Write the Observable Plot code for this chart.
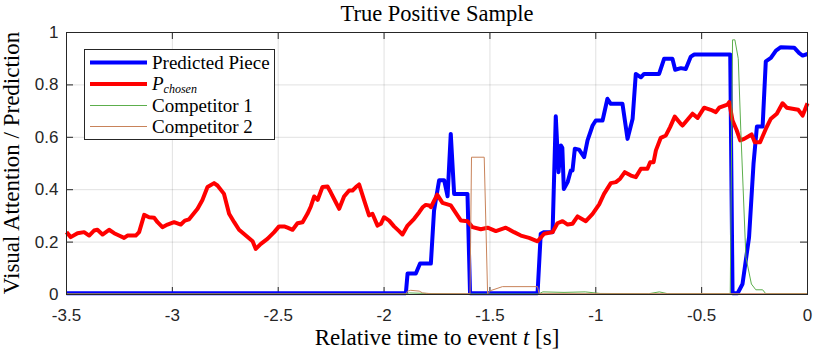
<!DOCTYPE html>
<html><head><meta charset="utf-8">
<script src="https://cdn.jsdelivr.net/npm/d3@7"></script>
<script src="https://cdn.jsdelivr.net/npm/@observablehq/plot@0.6"></script>
<style>body{margin:0;background:#fff} #chart{width:822px;height:353px}</style>
</head><body><div id="chart"></div><script>
// ---- Data ----
const titleText = "True Positive Sample";
const xLabelText = "Relative time to event ";
const yLabelText = "Visual Attention / Prediction";
const xTicks = [-3.5, -3, -2.5, -2, -1.5, -1, -0.5, 0];
const xTickLabels = ["-3.5", "-3", "-2.5", "-2", "-1.5", "-1", "-0.5", "0"];
const yTicks = [0, 0.2, 0.4, 0.6, 0.8, 1];
const yTickLabels = ["0", "0.2", "0.4", "0.6", "0.8", "1"];
const seriesNames = ["Predicted Piece", "P_chosen", "Competitor 1", "Competitor 2"];
const seriesColors = ["#0000ff", "#ff0000", "#5cae4c", "#c8835a"];
const seriesWidths = [4, 4, 1, 1];

const predT = [-3.5,-1.897,-1.889,-1.850,-1.830,-1.779,-1.764,-1.740,-1.716,-1.700,-1.685,-1.669,-1.606,-1.594,-1.275,-1.260,-1.244,-1.204,-1.189,-1.176,-1.165,-1.158,-1.151,-1.133,-1.118,-1.110,-1.099,-1.079,-1.055,-1.039,-1.015,-1.000,-0.968,-0.945,-0.929,-0.874,-0.850,-0.826,-0.811,-0.787,-0.772,-0.701,-0.677,-0.638,-0.625,-0.598,-0.575,-0.551,-0.535,-0.365,-0.354,-0.330,-0.307,-0.276,-0.255,-0.239,-0.212,-0.197,-0.173,-0.149,-0.126,-0.063,-0.039,-0.023,0];
const predV = [0.005,0.005,0.08,0.08,0.118,0.118,0.32,0.436,0.436,0.375,0.613,0.384,0.384,0.005,0.005,0.232,0.238,0.238,0.68,0.467,0.569,0.56,0.403,0.429,0.473,0.473,0.556,0.553,0.524,0.588,0.645,0.664,0.664,0.747,0.728,0.728,0.594,0.671,0.842,0.829,0.842,0.842,0.9,0.9,0.858,0.864,0.861,0.908,0.916,0.916,0.005,0.005,0.04,0.219,0.499,0.641,0.641,0.89,0.903,0.931,0.944,0.942,0.921,0.912,0.918];

const chosenT = [-3.5,-3.480,-3.448,-3.417,-3.393,-3.370,-3.354,-3.330,-3.299,-3.275,-3.252,-3.228,-3.212,-3.173,-3.157,-3.133,-3.110,-3.086,-3.070,-3.047,-3.023,-2.992,-2.960,-2.941,-2.921,-2.881,-2.858,-2.834,-2.803,-2.787,-2.756,-2.732,-2.708,-2.685,-2.653,-2.621,-2.606,-2.582,-2.551,-2.519,-2.496,-2.472,-2.456,-2.432,-2.409,-2.385,-2.362,-2.346,-2.330,-2.314,-2.291,-2.267,-2.252,-2.228,-2.212,-2.189,-2.165,-2.149,-2.133,-2.118,-2.094,-2.071,-2.055,-2.031,-2.015,-2.000,-1.976,-1.953,-1.929,-1.913,-1.889,-1.858,-1.834,-1.818,-1.803,-1.787,-1.779,-1.749,-1.724,-1.685,-1.637,-1.606,-1.582,-1.543,-1.511,-1.472,-1.425,-1.386,-1.354,-1.315,-1.275,-1.244,-1.204,-1.181,-1.157,-1.133,-1.110,-1.086,-1.047,-1.015,-0.984,-0.961,-0.929,-0.905,-0.885,-0.863,-0.834,-0.811,-0.787,-0.756,-0.743,-0.727,-0.716,-0.693,-0.669,-0.649,-0.627,-0.598,-0.590,-0.543,-0.519,-0.488,-0.457,-0.433,-0.417,-0.378,-0.370,-0.354,-0.334,-0.318,-0.299,-0.280,-0.264,-0.249,-0.224,-0.197,-0.173,-0.145,-0.118,-0.098,-0.071,-0.044,-0.023,0];
const chosenV = [0.238,0.219,0.234,0.238,0.225,0.244,0.247,0.229,0.247,0.234,0.225,0.216,0.225,0.225,0.238,0.304,0.295,0.293,0.276,0.257,0.267,0.276,0.267,0.282,0.287,0.327,0.361,0.41,0.425,0.416,0.384,0.308,0.276,0.247,0.225,0.203,0.174,0.193,0.212,0.238,0.26,0.26,0.255,0.247,0.272,0.276,0.308,0.336,0.374,0.361,0.41,0.412,0.39,0.352,0.327,0.374,0.397,0.397,0.41,0.42,0.359,0.302,0.308,0.263,0.27,0.295,0.282,0.26,0.242,0.229,0.263,0.289,0.314,0.333,0.342,0.34,0.333,0.381,0.35,0.34,0.282,0.28,0.257,0.249,0.255,0.242,0.255,0.238,0.225,0.216,0.203,0.232,0.238,0.272,0.28,0.267,0.27,0.298,0.28,0.308,0.344,0.384,0.425,0.429,0.442,0.467,0.454,0.448,0.48,0.48,0.505,0.505,0.55,0.598,0.607,0.639,0.679,0.651,0.645,0.69,0.674,0.713,0.705,0.696,0.713,0.725,0.734,0.664,0.626,0.588,0.594,0.603,0.611,0.581,0.581,0.632,0.671,0.69,0.73,0.713,0.709,0.705,0.683,0.73];

const comp1T = [-3.5,-1.9,-1.88,-1.8,-1.6,-1.27,-1.25,-1.15,-1.05,-0.98,-0.75,-0.7,-0.66,-0.365,-0.354,-0.343,-0.327,-0.315,-0.291,-0.265,-0.244,-0.212,-0.197,0];
const comp1V = [0.002,0.002,0.006,0.004,0.002,0.002,0.01,0.008,0.01,0.004,0.003,0.01,0.003,0.003,0.972,0.972,0.9,0.626,0.142,0.04,0.018,0.018,0.003,0.003];

const comp2T = [-3.5,-1.897,-1.889,-1.874,-1.834,-1.818,-1.779,-1.594,-1.587,-1.527,-1.511,-1.496,-1.441,-1.275,-1.268,0];
const comp2V = [0.002,0.002,0.013,0.016,0.013,0.006,0.003,0.003,0.524,0.524,0.003,0.015,0.03,0.03,0.003,0.003];

// ---- Build tables ----
const toRows = (ts, vs) => ts.map((t, i) => ({t, v: vs[i]}));
const series = [toRows(predT, predV), toRows(chosenT, chosenV), toRows(comp1T, comp1V), toRows(comp2T, comp2V)];

const W = 822, H = 353;
const mL = 66, mR = 15, mT = 32, mB = 59;
const tickLenX = 7 / (H - mT - mB);       // in y data units
const tickLenY = 7 / (W - mL - mR) * 3.5; // in x data units

const chart = Plot.plot({
  width: W, height: H,
  marginLeft: mL, marginRight: mR, marginTop: mT, marginBottom: mB,
  style: {background: "white", overflow: "visible"},
  x: {domain: [-3.5, 0]},
  y: {domain: [0, 1]},
  marks: [
    Plot.gridX(xTicks, {stroke: "#000", strokeOpacity: 0.12, strokeWidth: 1}),
    Plot.gridY(yTicks, {stroke: "#000", strokeOpacity: 0.12, strokeWidth: 1}),
    Plot.ruleX(xTicks, {y1: 0, y2: tickLenX, stroke: "#262626"}),
    Plot.ruleX(xTicks, {y1: 1, y2: 1 - tickLenX, stroke: "#262626"}),
    Plot.ruleY(yTicks, {x1: -3.5, x2: -3.5 + tickLenY, stroke: "#262626"}),
    Plot.ruleY(yTicks, {x1: 0, x2: -tickLenY, stroke: "#262626"}),
    Plot.axisX(xTicks, {anchor: "bottom", tickSize: 0, tickPadding: 14, fontSize: 17,
      fontFamily: "Liberation Sans, Arial, sans-serif", fill: "#262626",
      tickFormat: d => xTickLabels[xTicks.indexOf(d)], label: null}),
    Plot.axisY(yTicks, {anchor: "left", tickSize: 0, tickPadding: 8, fontSize: 17,
      fontFamily: "Liberation Sans, Arial, sans-serif", fill: "#262626",
      tickFormat: d => yTickLabels[yTicks.indexOf(d)], label: null}),
    ...series.map((rows, i) => Plot.line(rows, {x: "t", y: "v", stroke: seriesColors[i],
      strokeWidth: seriesWidths[i], strokeLinejoin: "round", strokeLinecap: "butt"})),
    Plot.frame({stroke: "#262626", strokeWidth: 1})
  ]
});
document.getElementById("chart").append(chart);

// ---- Texts: title, axis labels, legend ----
const svg = d3.select(chart);
const serif = "Liberation Serif, 'Times New Roman', serif";
svg.append("text").attr("x", 437).attr("y", 21).attr("text-anchor", "middle")
  .attr("font-family", serif).attr("font-size", 22.5).attr("fill", "#000").text(titleText);

const xl = svg.append("text").attr("x", 437).attr("y", 345).attr("text-anchor", "middle")
  .attr("font-family", serif).attr("font-size", 23).attr("fill", "#000");
xl.append("tspan").text(xLabelText);
xl.append("tspan").attr("font-style", "italic").text("t");
xl.append("tspan").text(" [s]");

svg.append("text").attr("transform", "translate(19,163) rotate(-90)").attr("text-anchor", "middle")
  .attr("font-family", serif).attr("font-size", 23).attr("fill", "#000").text(yLabelText);

const lg = svg.append("g").attr("text-anchor", "start");
lg.append("rect").attr("x", 84.5).attr("y", 49.5).attr("width", 190).attr("height", 90)
  .attr("fill", "white").attr("stroke", "#262626").attr("stroke-width", 1);
const rowY = [62.5, 84, 105.5, 126.5];
seriesNames.forEach((name, i) => {
  lg.append("line").attr("x1", 90).attr("x2", 147).attr("y1", rowY[i]).attr("y2", rowY[i])
    .attr("stroke", seriesColors[i]).attr("stroke-width", seriesWidths[i]);
  const tx = lg.append("text").attr("x", 152).attr("y", rowY[i] + 6).attr("text-anchor", "start")
    .attr("font-family", serif).attr("font-size", 19).attr("fill", "#000");
  if (name.includes("_")) {
    const [base, sub] = name.split("_");
    tx.append("tspan").attr("font-style", "italic").text(base);
    tx.append("tspan").attr("font-style", "italic").attr("font-size", 12).attr("dy", 2.5).text(sub);
  } else {
    tx.text(name);
  }
});
</script></body></html>
